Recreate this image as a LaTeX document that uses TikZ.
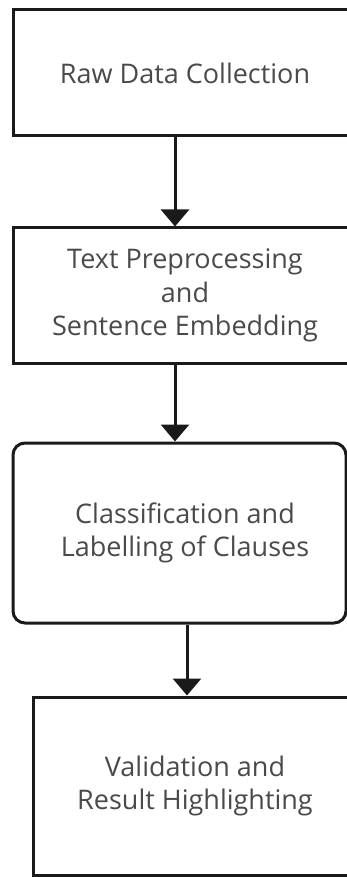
\documentclass[tikz,border=0pt]{standalone}
\usepackage{fontspec}
\setmainfont{Open Sans}
\usetikzlibrary{arrows.meta}
\definecolor{txt}{HTML}{4A4A4A}
\definecolor{edge}{HTML}{1A1A1A}
\tikzset{
  stepbox/.style={draw=edge, line width=3pt, rectangle, fill=white,
    text=txt, align=center, font=\fontsize{27}{33.5}\selectfont, inner sep=0pt},
  roundbox/.style={stepbox, rounded corners=12pt},
  arr/.style={draw=edge, line width=3pt, -{Triangle[width=28pt,length=17pt]}},
}
\begin{document}
\begin{tikzpicture}[x=1pt,y=-1pt]
\useasboundingbox (0,0) rectangle (347,877);
\clip (0,0) rectangle (347,877);
\node[stepbox, minimum width=344pt, minimum height=126pt] (b1) at (185,73) {Raw Data Collection};
\node[stepbox, minimum width=344pt, minimum height=135pt] (b2) at (185,295.5) {Text Preprocessing\\and\\Sentence Embedding};
\node[roundbox, minimum width=333pt, minimum height=180pt] (b3) at (179.5,533) {\hspace*{11pt}Classification and\\\hspace*{11pt}Labelling of Clauses};
\node[stepbox, minimum width=324pt, minimum height=178pt] (b4) at (195,786) {Validation and\\Result Highlighting};
\draw[arr] ([xshift=-10pt]b1.south) -- ([xshift=-10pt]b2.north);
\draw[arr] ([xshift=-10pt]b2.south) -- ([xshift=-4.5pt]b3.north);
\draw[arr] ([xshift=7.5pt]b3.south) -- ([xshift=-8pt]b4.north);
\end{tikzpicture}
\end{document}
